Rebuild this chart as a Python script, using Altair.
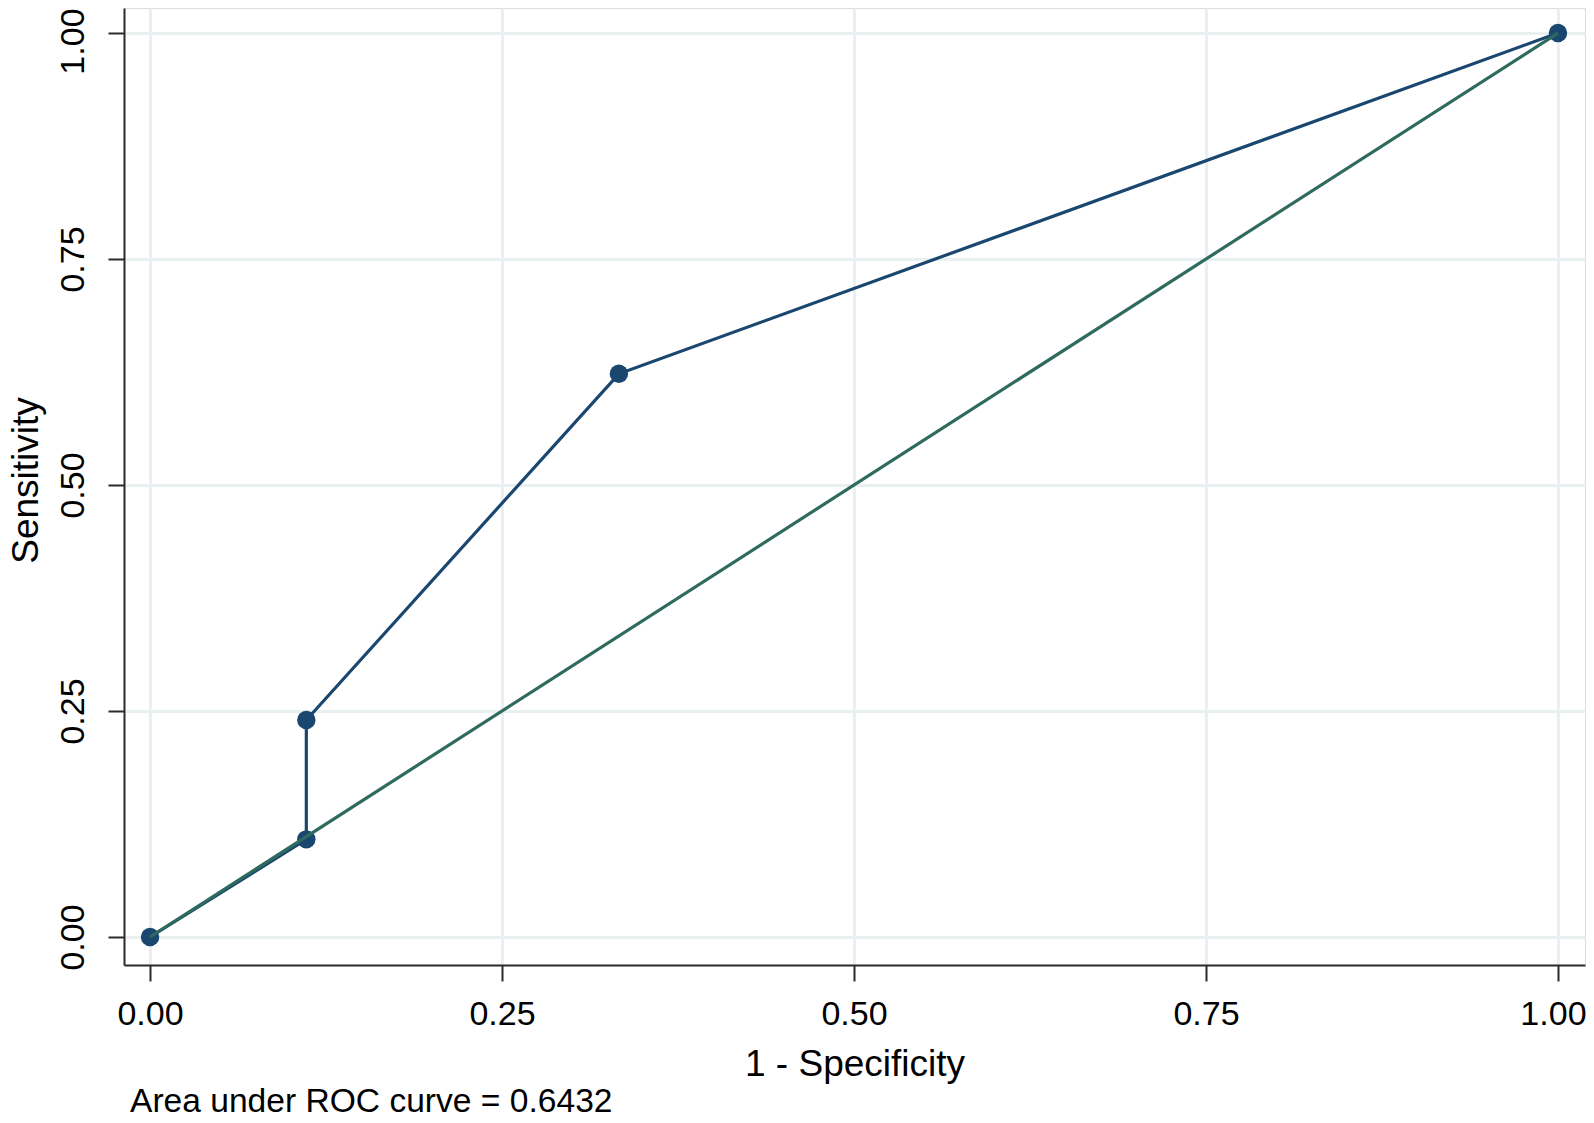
import altair as alt
import pandas as pd

# ROC curve points (1 - specificity, sensitivity)
fpr = [0.0, 0.111, 0.111, 0.333, 1.0]
tpr = [0.0, 0.108, 0.240, 0.623, 1.0]
# reference (chance) line
ref_x = [0.0, 1.0]
ref_y = [0.0, 1.0]
# ticks
x_ticks = [0.0, 0.25, 0.5, 0.75, 1.0]
y_ticks = [0.0, 0.25, 0.5, 0.75, 1.0]
auc_note = ["Area under ROC curve = 0.6432"]

FONT = "Liberation Sans"
NAVY = "#1a476f"
GREEN = "#2e6b5e"
AXIS_COL = "#2a2a2a"
GRID_COL = "#e8f0f2"

roc = pd.DataFrame({"fpr": fpr, "tpr": tpr, "order": list(range(len(fpr)))})
ref = pd.DataFrame({"fpr": ref_x, "tpr": ref_y, "order": list(range(len(ref_x)))})
note = pd.DataFrame({"t": auc_note})

xscale = alt.Scale(domain=[-0.0185, 1.0192], nice=False, zero=False)
yscale = alt.Scale(domain=[-0.031, 1.0277], nice=False, zero=False)

xaxis = alt.Axis(
    values=x_ticks, format=".2f", title="1 - Specificity",
    labelFont=FONT, labelFontSize=34, labelColor="black",
    labelBaseline="top", labelPadding=16,
    labelOffset={"condition": {"test": "datum.value == 1", "value": -5}, "value": 0},
    titleFont=FONT, titleFontSize=37, titleColor="black", titleFontWeight="normal",
    titleBaseline="alphabetic", titleY=110,
    tickSize=16, tickWidth=2, tickColor=AXIS_COL,
    domainColor=AXIS_COL, domainWidth=2,
    grid=True, gridColor=GRID_COL, gridWidth=3,
)
yaxis = alt.Axis(
    values=y_ticks, format=".2f", title="Sensitivity",
    labelFont=FONT, labelFontSize=34, labelColor="black",
    labelAngle=270, labelAlign="center", labelBaseline="alphabetic", labelPadding=25,
    labelOffset={"condition": {"test": "datum.value == 1", "value": 8}, "value": 0},
    titleFont=FONT, titleFontSize=37, titleColor="black", titleFontWeight="normal",
    titleAngle=270, titleAlign="center", titleBaseline="alphabetic",
    titleX=-87, titleY=472,
    tickSize=16, tickWidth=2, tickColor=AXIS_COL,
    domainColor=AXIS_COL, domainWidth=2,
    grid=True, gridColor=GRID_COL, gridWidth=3,
)

base = alt.Chart(roc)
roc_line = base.mark_line(color=NAVY, strokeWidth=3.2).encode(
    x=alt.X("fpr:Q", scale=xscale, axis=xaxis),
    y=alt.Y("tpr:Q", scale=yscale, axis=yaxis),
    order="order:O",
)
roc_pts = base.mark_point(filled=True, shape="circle", size=340, color=NAVY, opacity=1).encode(
    x=alt.X("fpr:Q", scale=xscale),
    y=alt.Y("tpr:Q", scale=yscale),
)
ref_line = alt.Chart(ref).mark_line(color=GREEN, strokeWidth=3.2).encode(
    x=alt.X("fpr:Q", scale=xscale),
    y=alt.Y("tpr:Q", scale=yscale),
    order="order:O",
)
note_txt = alt.Chart(note).mark_text(
    align="left", baseline="alphabetic", font=FONT, fontSize=33.6, color="black"
).encode(x=alt.value(6), y=alt.value(1104), text="t:N")

chart = alt.layer(roc_line, roc_pts, ref_line, note_txt).properties(
    width=1461, height=957,
    autosize=alt.AutoSizeParams(type="none"),
    padding={"left": 116, "top": 0, "right": 1, "bottom": 150},
).configure_view(stroke=None).configure(background="white")

chart.save("out.html", embed_options={"renderer": "svg", "actions": False})
